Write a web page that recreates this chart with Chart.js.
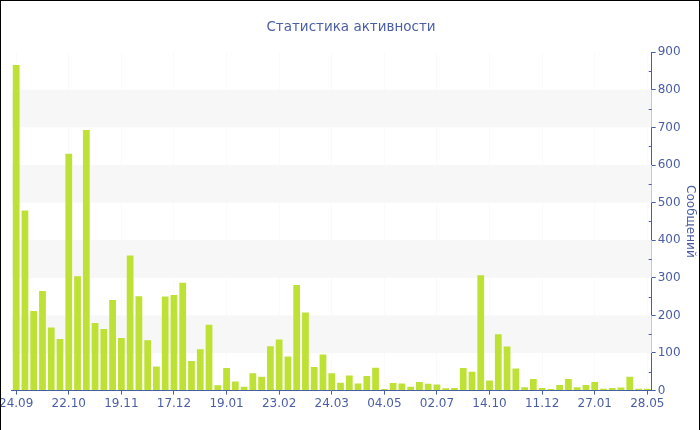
<!DOCTYPE html>
<html>
<head>
<meta charset="utf-8">
<script src="https://cdn.jsdelivr.net/npm/chart.js@4"></script>
<style>
  html, body { margin: 0; padding: 0; background: #fff; }
  #wrap { position: relative; width: 700px; height: 430px; overflow: hidden; }
  #box { position: absolute; left: -3px; top: 0; width: 703px; height: 430px; }
  #frame { position: absolute; left: 0; top: 0; width: 698px; height: 430px;
           border: 1px solid #000; border-bottom: none; pointer-events: none; }
</style>
</head>
<body>
<div id="wrap">
  <div id="box"><canvas id="activityChart"></canvas></div>
  <div id="frame"></div>
</div>
<script>
const tickLabels = ['24.09', '22.10', '19.11', '17.12', '19.01', '23.02', '24.03',
                    '04.05', '02.07', '14.10', '11.12', '27.01', '28.05'];
const messages = [866, 479, 212, 265, 168, 137, 630, 304, 693, 180,
                  164, 241, 140, 359, 251, 134, 64, 250, 254, 287,
                  79, 110, 175, 14, 60, 24, 10, 46, 37, 118,
                  136, 91, 281, 208, 63, 96, 46, 21, 40, 19,
                  39, 61, 4, 20, 19, 10, 23, 18, 16, 6,
                  7, 60, 50, 307, 27, 150, 117, 59, 9, 31,
                  7, 4, 15, 31, 9, 15, 23, 5, 7, 8,
                  37, 5, 5];
const labelEvery = 6;
const bands = [[100, 200], [300, 400], [500, 600], [700, 800]];

const blue = '#4a5ea6';
const font = 'DejaVu Sans';

const categories = messages.map((v, i) => i % labelEvery === 0 ? tickLabels[i / labelEvery] : '');

// grey bands behind the bars + small ticks on the right axis
const decorations = {
  id: 'decorations',
  beforeDatasetsDraw(chart) {
    const { ctx, chartArea, scales: { y } } = chart;
    ctx.save();
    ctx.fillStyle = '#f7f7f7';
    bands.forEach(([a, b]) => {
      const top = y.getPixelForValue(b);
      const bottom = y.getPixelForValue(a);
      ctx.fillRect(chartArea.left, top, chartArea.right - chartArea.left, bottom - top);
    });
    ctx.restore();
  },
  afterDraw(chart) {
    const { ctx, scales: { y } } = chart;
    ctx.save();
    ctx.strokeStyle = blue;
    ctx.lineWidth = 1;
    for (let v = 50; v < 900; v += 100) {
      const py = Math.round(y.getPixelForValue(v)) + 0.5;
      ctx.beginPath();
      ctx.moveTo(y.left - 3, py);
      ctx.lineTo(y.left, py);
      ctx.stroke();
    }
    ctx.restore();
  }
};

new Chart(document.getElementById('activityChart'), {
  type: 'bar',
  data: {
    labels: categories,
    datasets: [{
      label: 'Сообщений',
      data: messages,
      backgroundColor: '#bde134',
      borderWidth: 0,
      barPercentage: 0.77,
      categoryPercentage: 1
    }]
  },
  options: {
    responsive: true,
    maintainAspectRatio: false,
    animation: false,
    layout: { padding: { left: 0, right: -5, top: 0, bottom: 17 } },
    plugins: {
      legend: { display: false },
      tooltip: { enabled: false },
      title: {
        display: true,
        text: 'Статистика активности',
        color: blue,
        font: { family: font, size: 13.5, weight: 'normal' },
        padding: { top: 19, bottom: 17 }
      }
    },
    scales: {
      x: {
        offset: true,
        afterBuildTicks: axis => {
          axis.ticks = axis.ticks.filter(t => t.value % labelEvery === 0);
        },
        ticks: {
          autoSkip: false,
          maxRotation: 0,
          color: blue,
          font: { family: font, size: 12 },
          padding: 2
        },
        grid: {
          offset: false,
          color: 'rgba(0,0,0,0.018)',
          tickColor: blue,
          tickLength: 4
        },
        border: { color: blue, width: 1 }
      },
      y: {
        position: 'right',
        min: 0,
        max: 900,
        ticks: {
          stepSize: 100,
          color: blue,
          font: { family: font, size: 12 },
          padding: 2
        },
        grid: {
          drawOnChartArea: false,
          tickColor: blue,
          tickLength: 4
        },
        border: { color: blue, width: 1 },
        title: {
          display: true,
          text: 'Сообщений',
          color: blue,
          font: { family: font, size: 12 },
          padding: { top: 8, bottom: 0 }
        }
      }
    }
  },
  plugins: [decorations]
});
</script>
</body>
</html>
